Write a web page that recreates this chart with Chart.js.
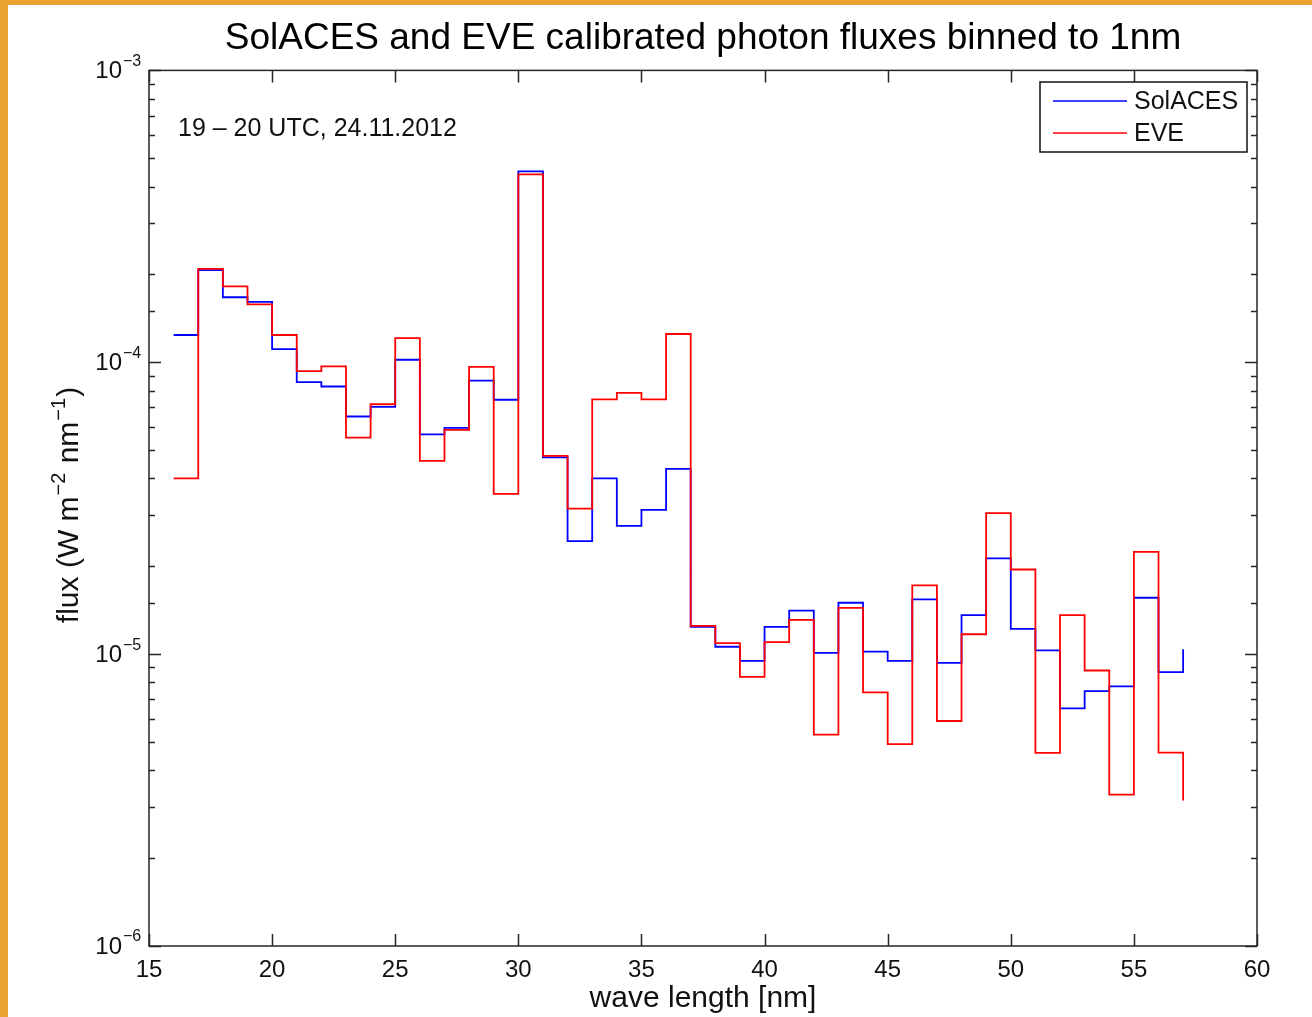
<!DOCTYPE html>
<html>
<head>
<meta charset="utf-8">
<script src="https://cdn.jsdelivr.net/npm/chart.js@4/dist/chart.umd.min.js"></script>
<style>
  html, body { margin: 0; padding: 0; background: #fff; }
  canvas { display: block; }
</style>
</head>
<body>
<canvas id="c" width="1312" height="1017"></canvas>
<script>
// ---- data ----
const wavelengths = [16,17,18,19,20,21,22,23,24,25,26,27,28,29,30,31,32,33,34,35,36,37,38,39,40,41,42,43,44,45,46,47,48,49,50,51,52,53,54,55,56,57];
const solaces = [1.24e-4,2.07e-4,1.67e-4,1.61e-4,1.11e-4,8.55e-5,8.26e-5,6.52e-5,7.03e-5,1.02e-4,5.66e-5,
  5.96e-5,8.65e-5,7.44e-5,4.51e-4,4.72e-5,2.44e-5,4.0e-5,2.75e-5,3.12e-5,4.31e-5,1.24e-5,1.06e-5,9.48e-6,
  1.24e-5,1.41e-5,1.01e-5,1.50e-5,1.02e-5,9.48e-6,1.54e-5,9.33e-6,1.36e-5,2.13e-5,1.22e-5,1.03e-5,6.52e-6,
  7.47e-6,7.75e-6,1.56e-5,8.67e-6,1.04e-5];
const eve = [4.0e-5,2.09e-4,1.82e-4,1.58e-4,1.24e-4,9.33e-5,9.68e-5,5.52e-5,7.18e-5,1.21e-4,4.59e-5,
  5.87e-5,9.64e-5,3.54e-5,4.40e-4,4.78e-5,3.15e-5,7.46e-5,7.85e-5,7.46e-5,1.25e-4,1.25e-5,1.09e-5,8.36e-6,
  1.10e-5,1.31e-5,5.30e-6,1.44e-5,7.39e-6,4.92e-6,1.72e-5,5.90e-6,1.17e-5,3.04e-5,1.95e-5,4.59e-6,1.36e-5,
  8.79e-6,3.30e-6,2.24e-5,4.60e-6,3.15e-6];
const seriesNames = ['SolACES', 'EVE'];
const seriesColors = ['#0000ff', '#ff0000'];
const xTicks = [15,20,25,30,35,40,45,50,55,60];
const yExponents = [-6,-5,-4,-3];
const titleText = 'SolACES and EVE calibrated photon fluxes binned to 1nm';
const annotationText = '19 \u2013 20 UTC, 24.11.2012';
const xTitle = 'wave length [nm]';
// y title as [text, isSuperscript] parts
const yTitleParts = [['flux (W m', false], ['\u22122', true], [' nm', false], ['\u22121', true], [')', false]];

const FONT = '"Liberation Sans", Arial, Helvetica, sans-serif';

const pts = arr => wavelengths.map((x, i) => ({x, y: arr[i]}));

const decorPlugin = {
  id: 'decor',
  beforeDraw(chart) {
    const ctx = chart.ctx;
    ctx.save();
    ctx.fillStyle = '#ffffff';
    ctx.fillRect(0, 0, chart.width, chart.height);
    ctx.fillStyle = '#e9a12f';
    ctx.fillRect(0, 0, 8, chart.height);
    ctx.fillRect(0, 0, chart.width, 5);
    ctx.restore();
  },
  afterDatasetsDraw(chart) {
    const ctx = chart.ctx;
    const a = chart.chartArea;
    const xs = chart.scales.x, ys = chart.scales.y;
    ctx.save();
    ctx.strokeStyle = '#262626';
    ctx.lineWidth = 1.5;
    ctx.strokeRect(a.left, a.top, a.right - a.left, a.bottom - a.top);
    ctx.beginPath();
    xTicks.forEach(v => {
      const px = Math.round(xs.getPixelForValue(v)) + 0.5;
      ctx.moveTo(px, a.bottom); ctx.lineTo(px, a.bottom - 12);
      ctx.moveTo(px, a.top); ctx.lineTo(px, a.top + 12);
    });
    ys.ticks.forEach(t => {
      const v = t.value;
      const e = Math.log10(v);
      const major = Math.abs(e - Math.round(e)) < 1e-6;
      const len = major ? 12 : 6;
      const py = Math.round(ys.getPixelForValue(v)) + 0.5;
      ctx.moveTo(a.left, py); ctx.lineTo(a.left + len, py);
      ctx.moveTo(a.right, py); ctx.lineTo(a.right - len, py);
    });
    ctx.stroke();

    // y tick labels 10^n with real superscripts
    ctx.fillStyle = '#111';
    ctx.textBaseline = 'middle';
    yExponents.forEach(e => {
      const py = ys.getPixelForValue(Math.pow(10, e));
      ctx.font = '24px ' + FONT;
      ctx.textAlign = 'right';
      ctx.fillText('10', a.left - 27, py + 1);
      ctx.font = '16px ' + FONT;
      ctx.textAlign = 'left';
      ctx.fillText('\u2212' + Math.abs(e), a.left - 26, py - 9);
    });

    // y axis title with superscripts
    ctx.save();
    ctx.translate(78, 505);
    ctx.rotate(-Math.PI / 2);
    ctx.textBaseline = 'alphabetic';
    ctx.textAlign = 'left';
    const mainF = '30px ' + FONT, supF = '20px ' + FONT;
    let total = 0;
    yTitleParts.forEach(([t, s]) => { ctx.font = s ? supF : mainF; total += ctx.measureText(t).width + (s ? 2 : 0); });
    let cx = -total / 2;
    yTitleParts.forEach(([t, s]) => {
      ctx.font = s ? supF : mainF;
      if (s) cx += 1;
      ctx.fillText(t, cx, s ? -13 : 0);
      cx += ctx.measureText(t).width + (s ? 1 : 0);
    });
    ctx.restore();

    // annotation text
    ctx.fillStyle = '#111';
    ctx.font = '25px ' + FONT;
    ctx.textAlign = 'left';
    ctx.textBaseline = 'middle';
    ctx.fillText(annotationText, 178, 129);

    // legend box
    const lx = 1040, ly = 82, lw = 207, lh = 70;
    ctx.fillStyle = '#fff';
    ctx.fillRect(lx, ly, lw, lh);
    ctx.strokeStyle = '#111';
    ctx.lineWidth = 1.5;
    ctx.strokeRect(lx, ly, lw, lh);
    chart.data.datasets.forEach((ds, i) => {
      const y = ly + 19 + i * 32;
      ctx.strokeStyle = ds.borderColor;
      ctx.lineWidth = 1.6;
      ctx.beginPath();
      ctx.moveTo(lx + 13, y); ctx.lineTo(lx + 87, y);
      ctx.stroke();
      ctx.fillStyle = '#111';
      ctx.font = '25px ' + FONT;
      ctx.fillText(ds.label, lx + 94, y + 1);
    });
    ctx.restore();
  }
};

new Chart(document.getElementById('c'), {
  type: 'line',
  data: {
    datasets: [
      { label: seriesNames[0], data: pts(solaces), borderColor: seriesColors[0], borderWidth: 1.8,
        stepped: true, pointRadius: 0, fill: false, order: 1 },
      { label: seriesNames[1], data: pts(eve), borderColor: seriesColors[1], borderWidth: 1.8,
        stepped: true, pointRadius: 0, fill: false, order: 0 }
    ]
  },
  options: {
    responsive: false,
    devicePixelRatio: 1,
    animation: false,
    layout: { padding: { left: 0, right: 55, top: 0, bottom: 0 } },
    plugins: {
      legend: { display: false },
      tooltip: { enabled: false },
      title: {
        display: true, text: titleText, color: '#000', fullSize: false,
        font: { family: FONT, size: 37, weight: 'normal', lineHeight: 1.2 },
        padding: { top: 17, bottom: 9 }
      }
    },
    scales: {
      x: {
        type: 'linear', min: 15, max: 60,
        afterFit: s => { s.height = 71; },
        afterBuildTicks: s => { s.ticks = xTicks.map(v => ({value: v})); },
        grid: { display: false },
        border: { display: false },
        ticks: { color: '#111', padding: 2, maxRotation: 0, autoSkip: false,
                 font: { family: FONT, size: 24 } },
        title: { display: true, text: xTitle, color: '#111',
                 font: { family: FONT, size: 30 }, padding: { top: 0, bottom: 0 } }
      },
      y: {
        type: 'logarithmic', min: 1e-6, max: 1e-3,
        afterFit: s => { s.width = 149; },
        grid: { display: false },
        border: { display: false },
        ticks: { display: false, autoSkip: false },
        title: { display: false }
      }
    }
  },
  plugins: [decorPlugin]
});
</script>
</body>
</html>
